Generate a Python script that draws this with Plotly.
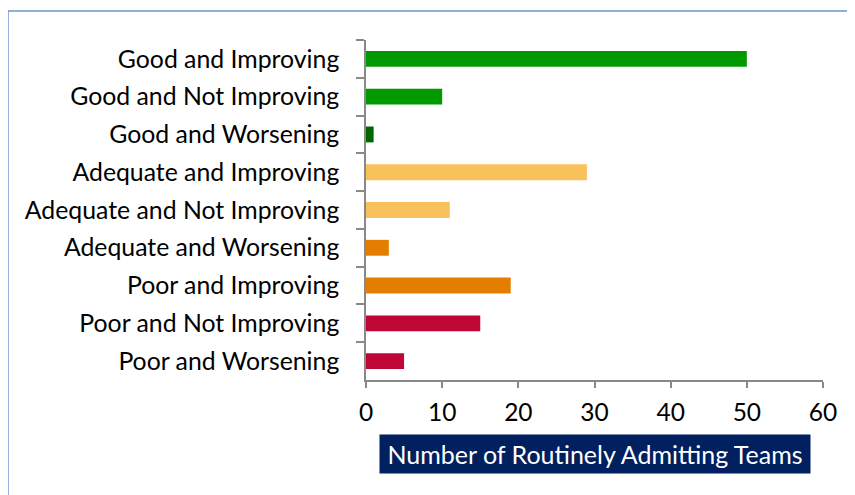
import plotly.graph_objects as go

categories = ["Good and Improving", "Good and Not Improving", "Good and Worsening",
              "Adequate and Improving", "Adequate and Not Improving", "Adequate and Worsening",
              "Poor and Improving", "Poor and Not Improving", "Poor and Worsening"]
values = [50, 10, 1, 29, 11, 3, 19, 15, 5]
colors = ["#009900", "#009900", "#006600",
          "#F9C15C", "#F9C15C", "#E37E00",
          "#E37E00", "#C00636", "#C00636"]
x_ticks = [0, 10, 20, 30, 40, 50, 60]
x_title = "Number of Routinely Admitting Teams"

FONT = "Lato"

fig = go.Figure(go.Bar(
    y=categories, x=values, orientation="h",
    marker=dict(color=colors, line=dict(width=0)),
    width=0.42,
))

fig.update_layout(
    width=855, height=495,
    margin=dict(l=358, r=40, t=32, b=123),
    paper_bgcolor="white", plot_bgcolor="white",
    font=dict(family=FONT, size=24.8, color="#000000"),
    showlegend=False,
    xaxis=dict(range=[0, 60], tickvals=x_ticks, showgrid=False, zeroline=False,
               showline=True, linecolor="#898989", linewidth=1.5,
               ticks="outside", ticklen=6, tickcolor="#898989", tickwidth=1.5,
               ticklabelstandoff=4,
               tickfont=dict(size=24.5), fixedrange=True),
    yaxis=dict(autorange="reversed", showgrid=False, zeroline=False,
               showline=True, linecolor="#898989", linewidth=1.5,
               ticks="outside", ticklen=8, tickcolor="#898989", tickwidth=1.5,
               tickson="boundaries", ticklabelstandoff=20, fixedrange=True),
    shapes=[dict(type="rect", xref="paper", yref="paper",
                 x0=-0.7834, x1=1.08, y0=-0.38, y1=1.0853,
                 line=dict(color="#6F95CC", width=1.5), fillcolor="rgba(0,0,0,0)")],
    annotations=[dict(text=x_title, xref="paper", yref="paper", x=0.5, y=-0.2176,
                      xanchor="center", yanchor="middle", showarrow=False,
                      bgcolor="#002060", width=428, height=36,
                      font=dict(color="white", size=25, family=FONT))],
)

fig.write_html("out.html")
